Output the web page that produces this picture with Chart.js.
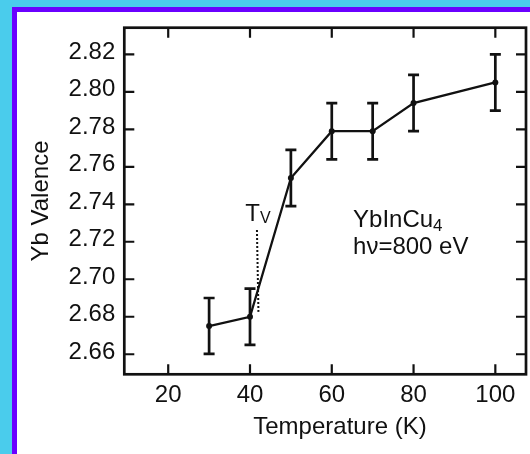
<!DOCTYPE html>
<html><head><meta charset="utf-8">
<script src="https://cdn.jsdelivr.net/npm/chart.js@4/dist/chart.umd.min.js"></script>
<style>
html,body{margin:0;padding:0;width:530px;height:454px;overflow:hidden;background:#4accec;}
#panel{position:absolute;left:12px;top:7px;width:530px;height:460px;background:#fff;border-left:5px solid #6a00ff;border-top:5px solid #6a00ff;}
#c{position:absolute;left:0;top:0;}
</style></head><body>
<div id="panel"></div>
<canvas id="c" width="530" height="454"></canvas>
<script>
// ---- data ----
const temperatures = [30, 40, 50, 60, 70, 80, 100];
const valence      = [2.675, 2.680, 2.754, 2.779, 2.779, 2.794, 2.805];
const errorUp      = [0.015, 0.015, 0.015, 0.015, 0.015, 0.015, 0.015];
const errorDown    = [0.0148, 0.015, 0.015, 0.015, 0.015, 0.015, 0.015];
const xTickValues  = [20, 40, 60, 80, 100];
const yTickValues  = [2.66, 2.68, 2.70, 2.72, 2.74, 2.76, 2.78, 2.80, 2.82];
const tvTemperature = 41.7;
const tvValenceRange = [2.6826, 2.7263];

const FONT = "'Liberation Sans', Arial, Helvetica, sans-serif";
const INK = '#111';
const FS = 24;

const overlay = {
  id: 'overlay',
  afterDatasetsDraw(chart) {
    const ctx = chart.ctx, xs = chart.scales.x, ys = chart.scales.y, a = chart.chartArea;
    ctx.save();
    // error bars
    ctx.strokeStyle = INK; ctx.lineWidth = 2.7; ctx.lineCap = 'butt';
    temperatures.forEach((t, i) => {
      const px = xs.getPixelForValue(t);
      const top = ys.getPixelForValue(valence[i] + errorUp[i]);
      const bot = ys.getPixelForValue(valence[i] - errorDown[i]);
      ctx.beginPath();
      ctx.moveTo(px, top); ctx.lineTo(px, bot);
      ctx.moveTo(px - 5.5, top); ctx.lineTo(px + 5.5, top);
      ctx.moveTo(px - 5.5, bot); ctx.lineTo(px + 5.5, bot);
      ctx.stroke();
    });
    // frame
    ctx.lineWidth = 2.7;
    ctx.strokeRect(a.left, a.top, a.right - a.left, a.bottom - a.top);
    // inward ticks
    ctx.lineWidth = 2.2;
    const TL = 10;
    ctx.beginPath();
    xTickValues.forEach(v => {
      const px = xs.getPixelForValue(v);
      ctx.moveTo(px, a.bottom); ctx.lineTo(px, a.bottom - TL);
      ctx.moveTo(px, a.top); ctx.lineTo(px, a.top + TL);
    });
    yTickValues.forEach(v => {
      const py = ys.getPixelForValue(v);
      ctx.moveTo(a.left, py); ctx.lineTo(a.left + TL, py);
      ctx.moveTo(a.right, py); ctx.lineTo(a.right - TL, py);
    });
    ctx.stroke();
    // Tv dotted line
    ctx.lineWidth = 2;
    ctx.setLineDash([2, 2]);
    ctx.beginPath();
    const tvx = xs.getPixelForValue(tvTemperature);
    ctx.moveTo(tvx, ys.getPixelForValue(tvValenceRange[1]));
    ctx.lineTo(tvx + 1.5, ys.getPixelForValue(tvValenceRange[0]));
    ctx.stroke();
    ctx.setLineDash([]);
    // texts
    ctx.fillStyle = INK;
    ctx.textBaseline = 'alphabetic';
    ctx.textAlign = 'left';
    // T_V
    let x0 = xs.getPixelForValue(38.85), y0 = ys.getPixelForValue(2.7312);
    ctx.font = FS + 'px ' + FONT;
    ctx.fillText('T', x0, y0);
    let w = ctx.measureText('T').width;
    ctx.font = '16px ' + FONT;
    ctx.fillText('V', x0 + w, y0 + 2.5);
    // YbInCu4
    x0 = xs.getPixelForValue(65.2); y0 = ys.getPixelForValue(2.7281);
    ctx.font = FS + 'px ' + FONT;
    ctx.fillText('YbInCu', x0, y0);
    w = ctx.measureText('YbInCu').width;
    ctx.font = '17px ' + FONT;
    ctx.fillText('4', x0 + w, y0 + 4);
    // hν=800 eV
    ctx.font = FS + 'px ' + FONT;
    ctx.fillText('hν=800 eV', x0, ys.getPixelForValue(2.7135));
    // x axis title
    ctx.textAlign = 'center';
    ctx.fillText('Temperature (K)', xs.getPixelForValue(62), 434);
    ctx.restore();
  }
};

new Chart(document.getElementById('c'), {
  type: 'line',
  data: {
    datasets: [{
      data: temperatures.map((t, i) => ({x: t, y: valence[i]})),
      borderColor: INK,
      backgroundColor: INK,
      borderWidth: 2.3,
      pointRadius: 3,
      pointBackgroundColor: INK,
      pointBorderWidth: 0,
      tension: 0,
      fill: false
    }]
  },
  options: {
    responsive: false,
    animation: false,
    devicePixelRatio: 1,
    layout: {padding: {top: 27.7, right: 3.3, left: 0, bottom: 0}},
    plugins: {legend: {display: false}, tooltip: {enabled: false}},
    scales: {
      x: {
        type: 'linear', position: 'bottom',
        min: 9.26, max: 107.5,
        afterBuildTicks: s => { s.ticks = xTickValues.map(v => ({value: v})); },
        afterFit: s => { s.height = 79.7; },
        grid: {display: false, drawTicks: false},
        border: {display: false},
        ticks: {color: INK, font: {family: FONT, size: FS}, padding: 6.5, maxRotation: 0, autoSkip: false,
                callback: v => String(v)}
      },
      y: {
        type: 'linear', position: 'left',
        min: 2.6493, max: 2.8342,
        afterBuildTicks: s => { s.ticks = yTickValues.map(v => ({value: v})); },
        afterFit: s => { s.width = 124.3; },
        grid: {display: false, drawTicks: false},
        border: {display: false},
        ticks: {color: INK, font: {family: FONT, size: FS}, padding: 9, autoSkip: false, labelOffset: -2,
                callback: v => Number(v).toFixed(2)},
        title: {display: true, text: 'Yb Valence', color: INK, font: {family: FONT, size: FS}, padding: {top: 26.6, bottom: 0}}
      }
    }
  },
  plugins: [overlay]
});
</script>
</body></html>
